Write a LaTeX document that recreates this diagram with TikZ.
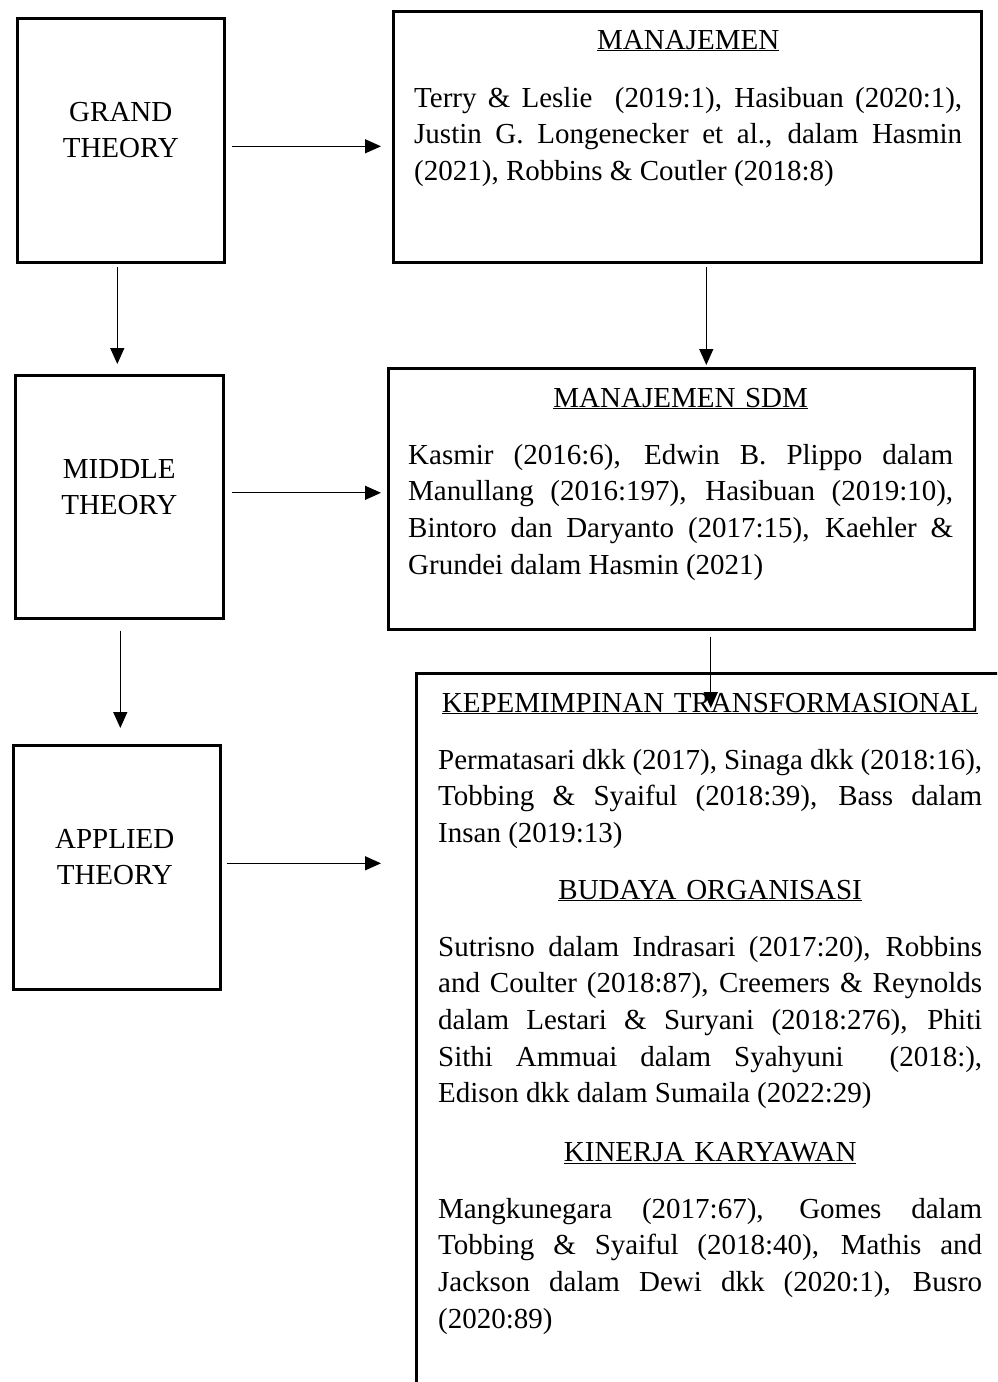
\documentclass[tikz,border=0pt]{standalone}
\usepackage{fontspec}
\setmainfont{Liberation Serif}
\usetikzlibrary{arrows.meta,calc}
\hyphenpenalty=10000
\exhyphenpenalty=10000
\begin{document}
\begin{tikzpicture}[x=1pt,y=-1pt,
  box/.style={draw, line width=2.6pt, inner sep=0pt, anchor=north west},
  arr/.style={line width=1.3pt, -{Triangle[length=16pt,width=14pt]}},
  txt/.style={inner sep=0pt, anchor=base west, text width=#1, align=justify,
    font=\fontsize{29}{36.7}\selectfont},
  txt/.default=544pt,
  head/.style={inner sep=0pt, anchor=base west, text width=#1, align=center,
    font=\fontsize{29}{36.7}\selectfont},
  head/.default=544pt,
  lbl/.style={inner sep=0pt, align=center, font=\fontsize{29}{36}\selectfont}]
\useasboundingbox (0,0) rectangle (997,1382);
\clip (0,0) rectangle (997,1382);

% left column boxes
\node[box, minimum width=207pt, minimum height=244pt] (grand) at (16,17) {};
\node[box, minimum width=208pt, minimum height=243pt] (middle) at (14,374) {};
\node[box, minimum width=207pt, minimum height=244pt] (applied) at (12,744) {};
\node[lbl] (grandT) at ($(grand.center)+(0,-10)$) {GRAND\\THEORY};
\node[lbl] (middleT) at ($(middle.center)+(0,-10)$) {MIDDLE\\THEORY};
\node[lbl] (appliedT) at ($(applied.center)+(-2,-10)$) {APPLIED\\THEORY};

% right column boxes
\node[box, minimum width=588pt, minimum height=251pt] (man) at (392,10) {};
\node[box, minimum width=586pt, minimum height=261pt] (sdm) at (387,367) {};
\node[box, minimum width=700pt, minimum height=800pt] (big) at (415,672) {};

% texts
\node[head=548pt] (manH) at (414,49) {\underline{MANAJEMEN}};
\node[txt=548pt] (manT) at (414,107) {Terry \& Leslie\ \ (2019:1), Hasibuan (2020:1),\linebreak
Justin G. Longenecker et al., dalam Hasmin\linebreak
(2021), Robbins \& Coutler (2018:8)};

\node[head=545pt] (sdmH) at (408,407) {\underline{MANAJEMEN SDM}};
\node[txt=545pt] (sdmT) at (408,464) {Kasmir (2016:6), Edwin B. Plippo dalam\linebreak
Manullang (2016:197), Hasibuan (2019:10),\linebreak
Bintoro dan Daryanto (2017:15), Kaehler \&\linebreak
Grundei dalam Hasmin (2021)};

\node[head] (kepH) at (438,712) {\underline{KEPEMIMPINAN TRANSFORMASIONAL}};
\node[txt] (kepT) at (438,769) {Permatasari dkk (2017), Sinaga dkk (2018:16),\linebreak
Tobbing \& Syaiful (2018:39), Bass dalam\linebreak
Insan (2019:13)};

\node[head] (budH) at (438,899) {\underline{BUDAYA ORGANISASI}};
\node[txt] (budT) at (438,956) {Sutrisno dalam Indrasari (2017:20), Robbins\linebreak
and Coulter (2018:87), Creemers \& Reynolds\linebreak
dalam Lestari \& Suryani (2018:276), Phiti\linebreak
Sithi Ammuai dalam Syahyuni\ \ (2018:),\linebreak
Edison dkk dalam Sumaila (2022:29)};

\node[head] (kinH) at (438,1161) {\underline{KINERJA KARYAWAN}};
\node[txt] (kinT) at (438,1218) {Mangkunegara (2017:67), Gomes dalam\linebreak
Tobbing \& Syaiful (2018:40), Mathis and\linebreak
Jackson dalam Dewi dkk (2020:1), Busro\linebreak
(2020:89)};

% connectors
\draw[arr] ($(grand.east)+(6,6)$) -- ($(grand.east -| man.west)+(-11,6)$);
\draw[arr] ($(grand.south)+(-3.5,3)$) -- ($(grand.south |- middle.north)+(-3.5,-10)$);
\draw[arr] ($(man.south)+(19,3)$) -- ($(man.south |- sdm.north)+(19,-2)$);
\draw[arr] ($(middle.east)+(7,-4)$) -- ($(middle.east -| sdm.west)+(-6,-4)$);
\draw[arr] ($(middle.south)+(1,11)$) -- ($(middle.south |- applied.north)+(1,-16)$);
\draw[arr] ($(sdm.south)+(29.5,6)$) -- ($(sdm.south |- big.north)+(29.5,36)$);
\draw[arr] ($(applied.east)+(5,-4)$) -- ($(applied.east -| big.west)+(-34,-4)$);
\end{tikzpicture}
\end{document}
